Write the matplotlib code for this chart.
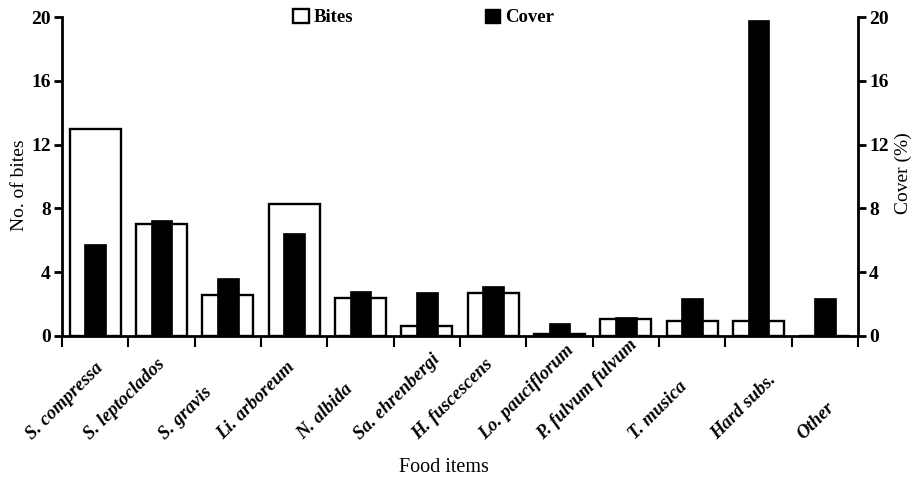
import matplotlib
matplotlib.use("Agg")
import matplotlib.pyplot as plt
import matplotlib.transforms as mtransforms
from matplotlib.patches import Patch
import numpy as np

categories = ["S. compressa", "S. leptoclados", "S. gravis", "Li. arboreum", "N. albida",
              "Sa. ehrenbergi", "H. fuscescens", "Lo. pauciflorum", "P. fulvum fulvum",
              "T. musica", "Hard subs.", "Other"]
bites = [13.0, 7.0, 2.55, 8.3, 2.36, 0.65, 2.72, 0.12, 1.05, 0.92, 0.92, 0.0]
cover = [5.75, 7.25, 3.65, 6.48, 2.8, 2.74, 3.15, 0.83, 1.19, 2.4, 19.8, 2.4]
yticks = [0, 4, 8, 12, 16, 20]

# label start offsets (category units) for the hand-placed rotated labels
label_offsets = [-0.95, -1.08, -0.95, -1.07, -0.87, -1.01, -1.13, -1.12, -1.25, -0.86, -0.63, -0.33]

plt.rcParams['font.family'] = ['Liberation Serif', 'DejaVu Serif']

fig = plt.figure(figsize=(9.14, 4.82), dpi=100)
ax = fig.add_axes([62/914, 1-336/482, 796/914, 319/482])
ax2 = ax.twinx()

x = np.arange(len(categories))
ax.bar(x, bites, width=0.77, facecolor='white', edgecolor='black', linewidth=1.7, zorder=2)
ax2.bar(x, cover, width=0.33, facecolor='black', edgecolor='black', linewidth=0.5, zorder=3)

for a in (ax, ax2):
    a.set_ylim(0, 20)
    a.set_yticks(yticks)
    a.set_xlim(-0.5, len(categories) - 0.5)
    a.spines['top'].set_visible(False)
    for s in a.spines.values():
        s.set_linewidth(2)

ax.spines['right'].set_visible(False)
ax2.spines['left'].set_visible(False)
ax2.spines['bottom'].set_visible(False)

ax.set_xticks(np.arange(len(categories) + 1) - 0.5)
ax.set_xticklabels([])
ax.tick_params(axis='x', direction='out', length=8, width=1.5)
ax.tick_params(axis='y', direction='out', length=6, width=2, labelsize=14, pad=2)
ax2.tick_params(axis='y', direction='out', length=6, width=2, labelsize=14, pad=2)
for lab in ax.get_yticklabels() + ax2.get_yticklabels():
    lab.set_fontweight('bold')

trans = mtransforms.blended_transform_factory(ax.transData, fig.transFigure)
for i, (name, off) in enumerate(zip(categories, label_offsets)):
    ax.text(i + off, 1 - 440/482, name, transform=trans, rotation=45,
            rotation_mode='anchor', ha='left', va='baseline',
            fontsize=13.5, fontweight='bold', fontstyle='italic')

fig.text(20/914, 1 - 185/482, "No. of bites", rotation=90, ha='center', va='center', fontsize=14)
fig.text(903/914, 1 - 173/482, "Cover (%)", rotation=90, ha='center', va='center', fontsize=14)
fig.text(444/914, 1 - 468/482, "Food items", ha='center', va='center', fontsize=14.5)

handles = [Patch(facecolor='white', edgecolor='black', linewidth=1.7),
           Patch(facecolor='black', edgecolor='black')]
leg = fig.legend(handles, ["Bites", "Cover"], ncol=2, loc='upper left',
                 bbox_to_anchor=(293/914, 1 - 9/482), bbox_transform=fig.transFigure,
                 frameon=False, borderpad=0, borderaxespad=0, handlelength=0.85,
                 handleheight=0.75, handletextpad=0.25, columnspacing=7.0,
                 prop={'weight': 'bold', 'size': 13.5})

fig.savefig("out.png", dpi=100)
